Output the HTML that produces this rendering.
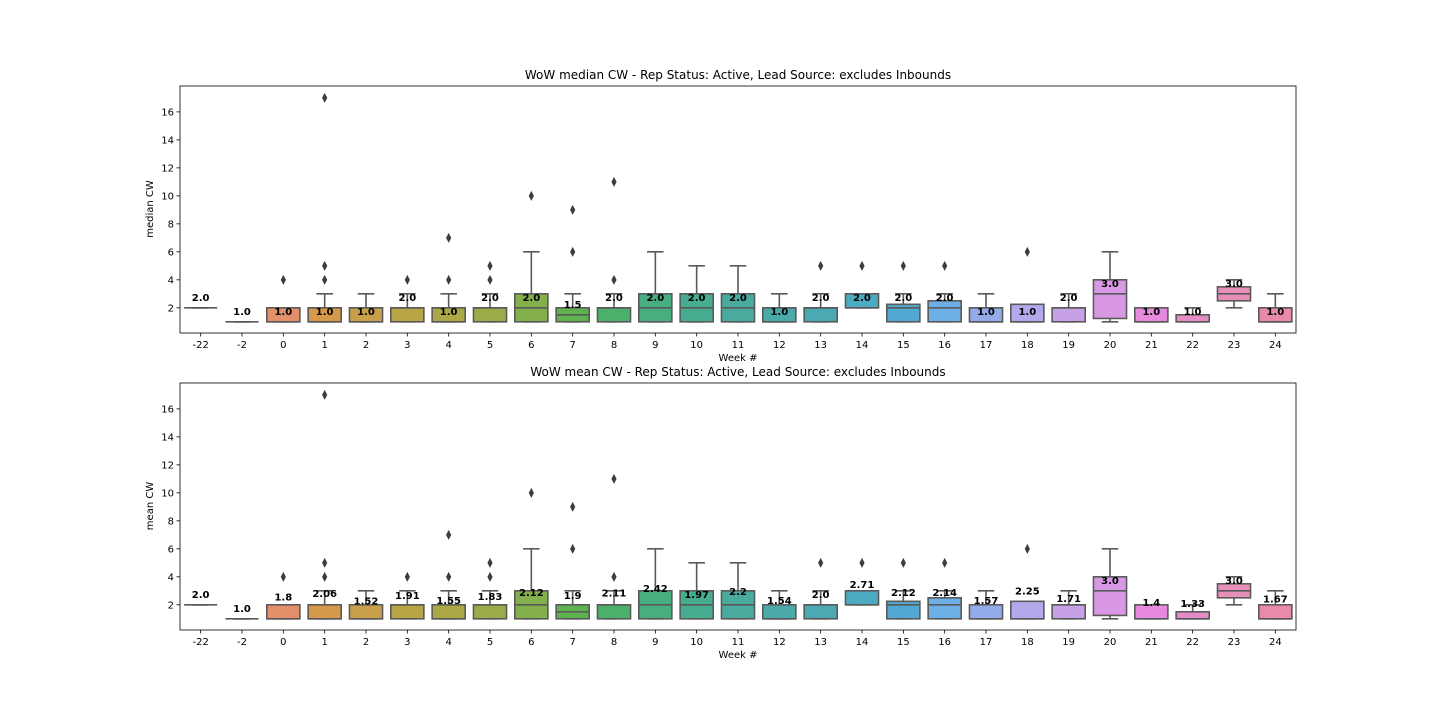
<!DOCTYPE html>
<html><head><meta charset="utf-8"><style>
html,body{margin:0;padding:0;background:#fff;}
svg{display:block;font-family:"DejaVu Sans","Liberation Sans",sans-serif;}
</style></head><body>
<svg id="c" width="1440" height="720" viewBox="0 0 1440 720"></svg>
<script>
const weeks=["-22","-2","0","1","2","3","4","5","6","7","8","9","10","11","12","13","14","15","16","17","18","19","20","21","22","23","24"];
const q1 =[2,1,1,1,1,1,1,1,1,1,1,1,1,1,1,1,2,1,1,1,1,1,1.24,1,1,2.5,1];
const med=[2,1,1,1,1,2,1,2,2,1.5,2,2,2,2,1,2,2,2,2,1,1,2,3,1,1,3,1];
const q3 =[2,1,2,2,2,2,2,2,3,2,2,3,3,3,2,2,3,2.25,2.5,2,2.25,2,4,2,1.5,3.5,2];
const wlo=[2,1,1,1,1,1,1,1,1,1,1,1,1,1,1,1,2,1,1,1,1,1,1,1,1,2,1];
const whi=[2,1,2,3,3,3,3,3,6,3,3,6,5,5,3,3,3,3,3,3,2.25,3,6,2,2,4,3];
const fliers=[[],[],[4],[4,5,17],[],[4],[4,7],[4,5],[10],[6,9],[4,11],[],[],[],[],[5],[5],[5],[5],[],[6],[],[],[],[],[],[]];
const medLabels=["2.0","1.0","1.0","1.0","1.0","2.0","1.0","2.0","2.0","1.5","2.0","2.0","2.0","2.0","1.0","2.0","2.0","2.0","2.0","1.0","1.0","2.0","3.0","1.0","1.0","3.0","1.0"];
const means=[2.0,1.0,1.8,2.06,1.52,1.91,1.55,1.83,2.12,1.9,2.11,2.42,1.97,2.2,1.54,2.0,2.71,2.12,2.14,1.57,2.25,1.71,3.0,1.4,1.33,3.0,1.67];
const meanLabels=["2.0","1.0","1.8","2.06","1.52","1.91","1.55","1.83","2.12","1.9","2.11","2.42","1.97","2.2","1.54","2.0","2.71","2.12","2.14","1.57","2.25","1.71","3.0","1.4","1.33","3.0","1.67"];
const yTicks=[2,4,6,8,10,12,14,16];
const colors=["#e48f75","#e48f75","#e3906a","#d6994b","#c8a04b","#b9a446","#aba845","#9aab47","#83b04b","#5eb34e","#4bb06a","#48ae80","#47ad90","#49ab9e","#4aaaa8","#4ba9b4","#4dabc1","#51a8d2","#6caee6","#93abe9","#b1a9eb","#c6a1e8","#d898e4","#e78ade","#e58cc6","#e78fb9","#e88aa8"];

const svg=document.getElementById('c');
const NS='http://www.w3.org/2000/svg';
function mk(tag,at,parent){const e=document.createElementNS(NS,tag);for(const k in at)e.setAttribute(k,at[k]);(parent||svg).appendChild(e);return e;}
const X0=180,X1=1296,bw=(X1-X0)/weeks.length;
function xc(i){return X0+bw*(i+0.5);}

function panel(top,title,ylab,labels,labelVals,pname){
  const g=mk('g',{});
  
  
  const bottom=top+247;
  const ymin=0.2,ymax=17.85;
  const y=v=>bottom-(v-ymin)/(ymax-ymin)*247;
  // ticks
  yTicks.forEach(t=>{
    mk('line',{x1:X0-3.5,x2:X0,y1:y(t),y2:y(t),stroke:'#000','stroke-width':0.8},g);
    const tx=mk('text',{x:X0-6,y:y(t)+3.5,'text-anchor':'end','font-size':10,fill:'#000'},g);
    tx.textContent=t;
    
    
  });
  weeks.forEach((w,i)=>{
    const cx=xc(i);
    mk('line',{x1:cx,x2:cx,y1:bottom,y2:bottom+3.5,stroke:'#000','stroke-width':0.8},g);
    const tx=mk('text',{x:cx,y:bottom+15,'text-anchor':'middle','font-size':10,fill:'#000'},g);
    tx.textContent=w;
    
    
    const bg=mk('g',{},g);
    
    
    const lc='#5a5a5a',lw=1.6,hw=bw*0.4;
    mk('line',{x1:cx,x2:cx,y1:y(q3[i]),y2:y(whi[i]),stroke:lc,'stroke-width':lw},bg);
    mk('line',{x1:cx,x2:cx,y1:y(q1[i]),y2:y(wlo[i]),stroke:lc,'stroke-width':lw},bg);
    mk('line',{x1:cx-hw/2,x2:cx+hw/2,y1:y(whi[i]),y2:y(whi[i]),stroke:lc,'stroke-width':lw},bg);
    mk('line',{x1:cx-hw/2,x2:cx+hw/2,y1:y(wlo[i]),y2:y(wlo[i]),stroke:lc,'stroke-width':lw},bg);
    mk('rect',{x:cx-hw,y:y(q3[i]),width:hw*2,height:Math.max(0,y(q1[i])-y(q3[i])),fill:colors[i],stroke:lc,'stroke-width':lw},bg);
    mk('line',{x1:cx-hw,x2:cx+hw,y1:y(med[i]),y2:y(med[i]),stroke:lc,'stroke-width':lw},bg);
    fliers[i].forEach(f=>{
      const p=mk('path',{d:`M${cx},${y(f)-5}L${cx+2.6},${y(f)}L${cx},${y(f)+5}L${cx-2.6},${y(f)}Z`,fill:'#3d3d3d'},bg);
      
      
    });
    const lb=mk('text',{x:cx,y:y(labelVals[i])-7,'text-anchor':'middle','font-size':10,'font-weight':'bold',fill:'#000'},g);
    lb.textContent=labels[i];
    
    
  });
  mk('rect',{x:X0,y:top,width:X1-X0,height:247,fill:'none',stroke:'#000','stroke-width':0.8},g);
  const t=mk('text',{x:(X0+X1)/2,y:top-7,'text-anchor':'middle','font-size':12,fill:'#000'},g);
  t.textContent=title;
  const xl=mk('text',{x:(X0+X1)/2,y:bottom+28,'text-anchor':'middle','font-size':10,fill:'#000'},g);
  xl.textContent='Week #';
  const yl=mk('text',{x:0,y:0,'text-anchor':'middle','font-size':10,fill:'#000',transform:`translate(153,${top+123}) rotate(-90)`},g);
  yl.textContent=ylab;
}
panel(86,'WoW median CW - Rep Status: Active, Lead Source: excludes Inbounds','median CW',medLabels,med,'median-panel');
panel(383,'WoW mean CW - Rep Status: Active, Lead Source: excludes Inbounds','mean CW',meanLabels,means,'mean-panel');
</script>
</body></html>
